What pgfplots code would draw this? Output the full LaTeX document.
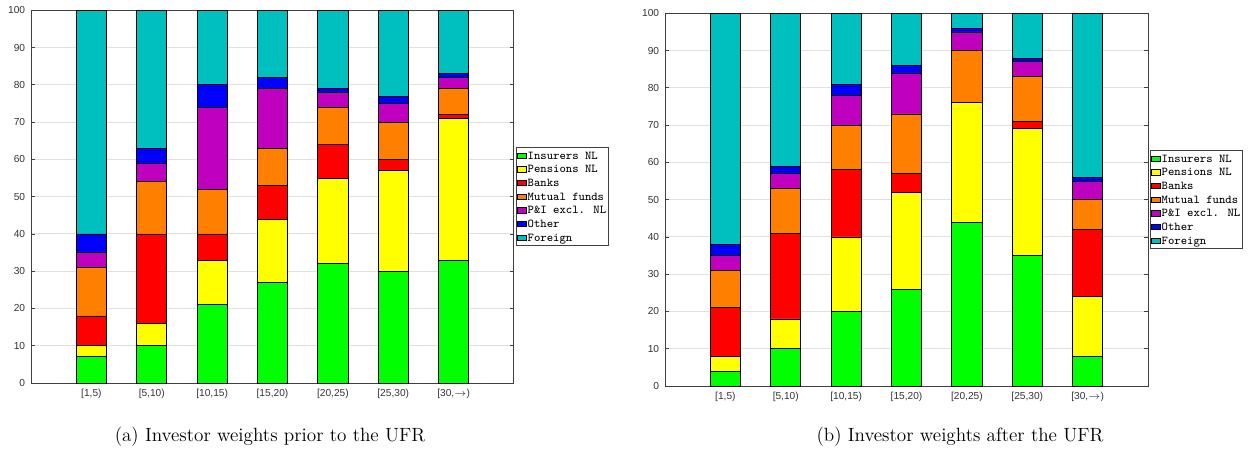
\documentclass[border=0pt]{standalone}
\usepackage{fontspec}
\usepackage{pgfplots}
\pgfplotsset{compat=1.18}
\newfontfamily\tickfont{Liberation Sans}
\definecolor{cGreen}{rgb}{0,1,0}
\definecolor{cYellow}{rgb}{1,1,0}
\definecolor{cRed}{rgb}{1,0,0}
\definecolor{cOrange}{rgb}{1,0.5,0}
\definecolor{cPurple}{rgb}{0.75,0,0.75}
\definecolor{cBlue}{rgb}{0,0,1}
\definecolor{cCyan}{rgb}{0,0.75,0.75}
\pgfplotsset{
  invstyle/.style={
    scale only axis, width=289.8pt, height=223.6pt,
    ybar stacked, bar width=0.5,
    xmin=0, xmax=8, ymin=0, ymax=100,
    xtick={1,...,7},
    xticklabels={{[1,5)},{[5,10)},{[10,15)},{[15,20)},{[20,25)},{[25,30)},{[30,$\rightarrow$)}},
    ytick={0,10,...,100},
    ymajorgrids, grid style={black!12, line width=0.6pt},
    tick align=inside, major tick length=2.6pt,
    axis line style={black!75, line width=0.6pt},
    tick style={black!75, line width=0.5pt},
    ticklabel style={font=\tickfont\fontsize{6.1}{6.5}\selectfont, text=black!80},
    /pgf/number format/assume math mode=true,
    legend style={at={(1,0.5)}, anchor=west, xshift=1pt,
      font=\ttfamily\fontsize{7.2}{8}\selectfont, draw=black!75, line width=0.6pt,
      inner sep=0.6pt, row sep=0pt, cells={anchor=west},
      nodes={inner sep=0.6pt, text height=5.6pt, text depth=1.4pt}},
    legend image code/.code={\draw[#1, draw=black, line width=0.5pt] (0pt,-1.6pt) rectangle (5.2pt,1.6pt);},
    every axis plot/.append style={draw=black, line width=0.5pt},
  }
}
\begin{document}
\begin{tikzpicture}
\path[use as bounding box] (0,0) rectangle (750pt,276.6pt);
% (a)
\begin{axis}[invstyle, at={(18.6pt,46.8pt)}, anchor=south west]
\addplot[fill=cGreen]  coordinates {(1,7) (2,10) (3,21) (4,27) (5,32) (6,30) (7,33)};
\addplot[fill=cYellow] coordinates {(1,3) (2,6) (3,12) (4,17) (5,23) (6,27) (7,38)};
\addplot[fill=cRed]    coordinates {(1,8) (2,24) (3,7) (4,9) (5,9) (6,3) (7,1)};
\addplot[fill=cOrange] coordinates {(1,13) (2,14) (3,12) (4,10) (5,10) (6,10) (7,7)};
\addplot[fill=cPurple] coordinates {(1,4) (2,5) (3,22) (4,16) (5,4) (6,5) (7,3)};
\addplot[fill=cBlue]   coordinates {(1,5) (2,4) (3,6) (4,3) (5,1) (6,2) (7,1)};
\addplot[fill=cCyan]   coordinates {(1,60) (2,37) (3,20) (4,18) (5,21) (6,23) (7,17)};
\legend{Insurers NL,Pensions NL,Banks,Mutual funds,P\&I excl. NL,Other,Foreign}
\end{axis}
% (b)
\begin{axis}[invstyle, at={(399pt,45pt)}, anchor=south west]
\addplot[fill=cGreen]  coordinates {(1,4) (2,10) (3,20) (4,26) (5,44) (6,35) (7,8)};
\addplot[fill=cYellow] coordinates {(1,4) (2,8) (3,20) (4,26) (5,32) (6,34) (7,16)};
\addplot[fill=cRed]    coordinates {(1,13) (2,23) (3,18) (4,5) (5,0) (6,2) (7,18)};
\addplot[fill=cOrange] coordinates {(1,10) (2,12) (3,12) (4,16) (5,14) (6,12) (7,8)};
\addplot[fill=cPurple] coordinates {(1,4) (2,4) (3,8) (4,11) (5,5) (6,4) (7,5)};
\addplot[fill=cBlue]   coordinates {(1,3) (2,2) (3,3) (4,2) (5,1) (6,1) (7,1)};
\addplot[fill=cCyan]   coordinates {(1,62) (2,41) (3,19) (4,14) (5,4) (6,12) (7,44)};
\legend{Insurers NL,Pensions NL,Banks,Mutual funds,P\&I excl. NL,Other,Foreign}
\end{axis}
\node at (162pt,14.4pt) {\fontsize{11.5}{13.5}\selectfont (a) Investor weights prior to the UFR};
\node at (576pt,14.4pt) {\fontsize{11.5}{13.5}\selectfont (b) Investor weights after the UFR};
\end{tikzpicture}
\end{document}
